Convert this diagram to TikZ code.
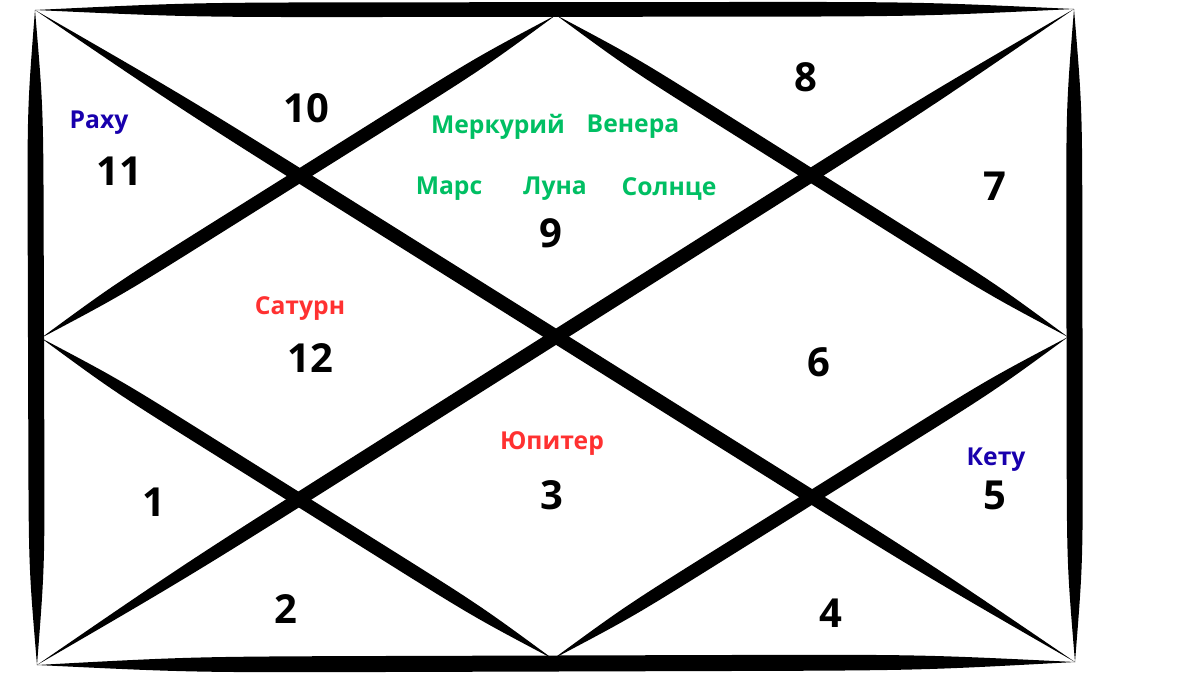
\documentclass[tikz,border=0pt]{standalone}
\usepackage{fontspec}
\setmainfont{Open Sans}
\usetikzlibrary{calc}
\definecolor{planetgreen}{HTML}{00BF63}
\definecolor{planetred}{HTML}{FF3131}
\definecolor{planetblue}{HTML}{1800AD}
\newcommand{\brush}[3]{%
\fill (#1) .. controls ($(#1)!0.15!(#2)!#3!90:(#2)$) .. ($(#1)!0.35!(#2)!#3!90:(#2)$)
 -- ($(#1)!0.65!(#2)!#3!90:(#2)$) .. controls ($(#1)!0.85!(#2)!#3!90:(#2)$) .. (#2)
 .. controls ($(#1)!0.85!(#2)!#3!-90:(#2)$) .. ($(#1)!0.65!(#2)!#3!-90:(#2)$)
 -- ($(#1)!0.35!(#2)!#3!-90:(#2)$) .. controls ($(#1)!0.15!(#2)!#3!-90:(#2)$) .. (#1) -- cycle;}

\begin{document}
\begin{tikzpicture}[x=0.75pt,y=-0.75pt,
  house/.style={font=\bfseries\fontsize{30}{30}\selectfont},
  planet/.style={font=\bfseries\fontsize{18.5}{18.5}\selectfont}]
\useasboundingbox[fill=white] (0,0) rectangle (1200,675);

\coordinate (tl) at (35,10);
\coordinate (tr) at (1074,9);
\coordinate (bl) at (37,665);
\coordinate (br) at (1075,662);
\coordinate (top) at (556,15);
\coordinate (bot) at (553,659);
\coordinate (lft) at (41,338);
\coordinate (rgt) at (1068,337);

\brush{tl}{tr}{5.5pt}
\brush{bl}{br}{6pt}
\brush{tl}{bl}{6pt}
\brush{tr}{br}{6pt}

\brush{tl}{br}{5.2pt}
\brush{bl}{tr}{5.2pt}

\brush{lft}{top}{5pt}
\brush{top}{rgt}{5pt}
\brush{rgt}{bot}{5pt}
\brush{bot}{lft}{5pt}

\node (rahu) at (99,123) [planet, text=planetblue] {Раху};
\node (h11) at (119,171) [house] {11};
\node (h10) at (306,108) [house] {10};

\node (merc) at (498,127) [planet, text=planetgreen] {Меркурий};
\node (venus) at (633,127) [planet, text=planetgreen] {Венера};
\node (mars) at (449,189) [planet, text=planetgreen] {Марс};
\node (moon) at (555,189) [planet, text=planetgreen] {Луна};
\node (sun) at (669,189) [planet, text=planetgreen] {Солнце};
\node (h9) at (551,233) [house] {9};

\node (h8) at (806,77) [house] {8};
\node (h7) at (995,186) [house] {7};

\node (saturn) at (300,309) [planet, text=planetred] {Сатурн};
\node (h12) at (310,358) [house] {12};
\node (h6) at (819,362) [house] {6};

\node (jupiter) at (552,444) [planet, text=planetred] {Юпитер};
\node (h3) at (552,495) [house] {3};
\node (h1) at (154,502) [house] {1};
\node (ketu) at (996,460) [planet, text=planetblue] {Кету};
\node (h5) at (995,495) [house] {5};

\node (h2) at (286,609) [house] {2};
\node (h4) at (831,613) [house] {4};
\end{tikzpicture}
\end{document}
